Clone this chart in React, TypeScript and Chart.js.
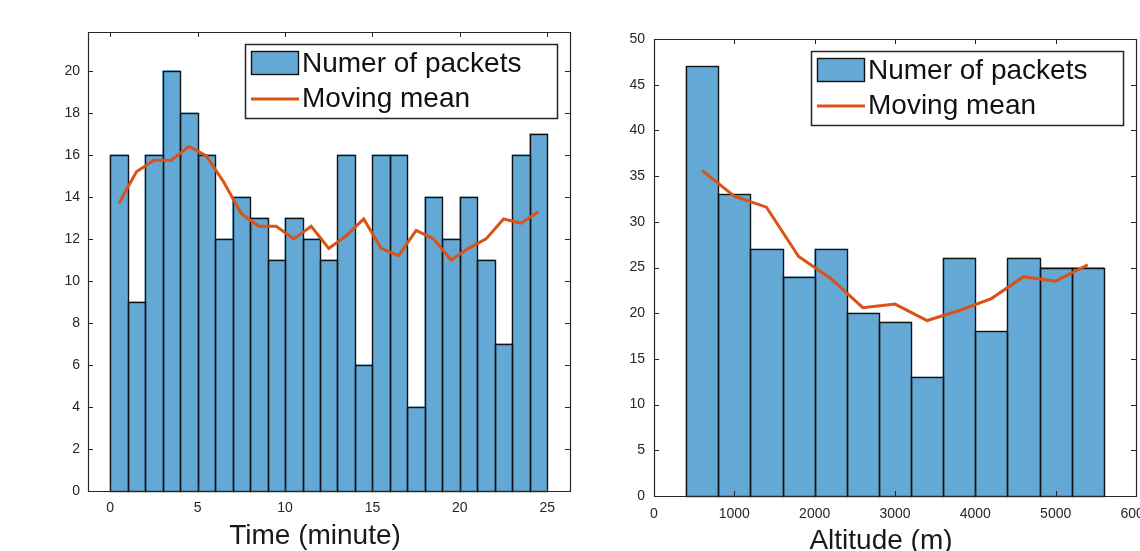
import React, { useEffect, useRef } from 'react';
import { Chart, registerables } from 'chart.js';

Chart.register(...registerables);

// ---- Left chart: packets per minute ----
const timeBinCenters = [0.5, 1.5, 2.5, 3.5, 4.5, 5.5, 6.5, 7.5, 8.5, 9.5, 10.5, 11.5, 12.5, 13.5, 14.5, 15.5, 16.5, 17.5, 18.5, 19.5, 20.5, 21.5, 22.5, 23.5, 24.5];
const packetsPerMinute = [16, 9, 16, 20, 18, 16, 12, 14, 13, 11, 13, 12, 11, 16, 6, 16, 16, 4, 14, 12, 14, 11, 7, 16, 17];
const movingMeanTime = [13.7, 15.2, 15.75, 15.75, 16.4, 15.95, 14.7, 13.2, 12.6, 12.6, 12.0, 12.6, 11.55, 12.15, 12.95, 11.55, 11.2, 12.4, 12.0, 11.0, 11.55, 12.0, 12.95, 12.75, 13.3];
const timeXTicks = [0, 5, 10, 15, 20, 25];
const timeYTicks = [0, 2, 4, 6, 8, 10, 12, 14, 16, 18, 20];

// ---- Right chart: packets per altitude ----
const altBinCenters = [600, 1000, 1400, 1800, 2200, 2600, 3000, 3400, 3800, 4200, 4600, 5000, 5400];
const packetsPerAltitude = [47, 33, 27, 24, 27, 20, 19, 13, 26, 18, 26, 25, 25];
const movingMeanAlt = [35.6, 32.8, 31.6, 26.2, 23.8, 20.6, 21.0, 19.2, 20.3, 21.6, 24.0, 23.5, 25.3];
const altXTicks = [0, 1000, 2000, 3000, 4000, 5000, 6000];
const altYTicks = [0, 5, 10, 15, 20, 25, 30, 35, 40, 45, 50];

const BAR_LABEL = 'Numer of packets';
const LINE_LABEL = 'Moving mean';
const FONT = '"Liberation Sans", Arial, Helvetica, sans-serif';
const BAR_FILL = 'rgb(100,169,214)';
const BAR_EDGE = '#121212';
const LINE_COLOR = '#D95319';
const AXIS_COLOR = '#262626';

// crisp black outlines on the histogram bars (drawn right after the bar dataset, below the line)
const barEdgePlugin = {
  id: 'barEdges',
  afterDatasetDraw(chart: any, args: any) {
    const ds = chart.data.datasets[args.index];
    if (ds.type !== 'bar') return;
    const { ctx } = chart;
    ctx.save();
    ctx.strokeStyle = BAR_EDGE;
    ctx.lineWidth = 1.4;
    for (const el of args.meta.data) {
      const { x, y, base, width } = el.getProps(['x', 'y', 'base', 'width'], true);
      const l = Math.round(x - width / 2) + 0.5;
      const r = Math.round(x + width / 2) + 0.5;
      const t = Math.round(y) + 0.5;
      const b = Math.round(base) + 0.5;
      ctx.strokeRect(l, t, r - l, b - t);
    }
    ctx.restore();
  },
};

const framePlugin = {
  id: 'matlabFrame',
  afterDatasetsDraw(chart: any, _args: any, opts: any) {
    const { ctx, chartArea } = chart;
    const { left, right, top, bottom } = chartArea;
    const xs = chart.scales.x;
    const ys = chart.scales.y;
    const tl = 5;
    ctx.save();
    ctx.strokeStyle = AXIS_COLOR;
    ctx.lineWidth = 1.2;
    ctx.beginPath();
    ctx.rect(Math.round(left) + 0.5, Math.round(top) + 0.5, Math.round(right - left), Math.round(bottom - top));
    ctx.stroke();
    ctx.lineWidth = 1;
    ctx.beginPath();
    for (const t of xs.ticks) {
      const px = Math.round(xs.getPixelForValue(t.value)) + 0.5;
      ctx.moveTo(px, bottom);
      ctx.lineTo(px, bottom - tl);
      ctx.moveTo(px, top);
      ctx.lineTo(px, top + tl);
    }
    for (const t of ys.ticks) {
      const py = Math.round(ys.getPixelForValue(t.value)) + 0.5;
      ctx.moveTo(left, py);
      ctx.lineTo(left + tl, py);
      ctx.moveTo(right, py);
      ctx.lineTo(right - tl, py);
    }
    ctx.stroke();

    // x axis title
    if (opts && opts.xTitle) {
      ctx.fillStyle = '#1a1a1a';
      ctx.font = `28px ${FONT}`;
      ctx.textAlign = 'center';
      ctx.textBaseline = 'alphabetic';
      ctx.fillText(opts.xTitle, (left + right) / 2 - 14, bottom + 53);
    }

    // legend box
    const ds = chart.data.datasets;
    const barDs = ds.find((d: any) => d.type === 'bar');
    const lineDs = ds.find((d: any) => d.type === 'line');
    const w = 312, h = 74;
    const x0 = Math.round(right - 13 - w);
    const y0 = Math.round(top + 12);
    ctx.fillStyle = '#ffffff';
    ctx.fillRect(x0, y0, w, h);
    ctx.strokeStyle = AXIS_COLOR;
    ctx.lineWidth = 1.5;
    ctx.strokeRect(x0 + 0.5, y0 + 0.5, w, h);
    ctx.fillStyle = barDs.backgroundColor;
    ctx.fillRect(x0 + 6, y0 + 7, 48, 24);
    ctx.lineWidth = 1.4;
    ctx.strokeStyle = BAR_EDGE;
    ctx.strokeRect(x0 + 6.5, y0 + 7.5, 47, 23);
    ctx.strokeStyle = lineDs.borderColor;
    ctx.lineWidth = 3;
    ctx.beginPath();
    ctx.moveTo(x0 + 6, y0 + 55);
    ctx.lineTo(x0 + 54, y0 + 55);
    ctx.stroke();
    ctx.fillStyle = '#111';
    ctx.font = `28px ${FONT}`;
    ctx.textAlign = 'left';
    ctx.textBaseline = 'middle';
    ctx.fillText(barDs.label, x0 + 57, y0 + 20);
    ctx.fillText(lineDs.label, x0 + 57, y0 + 55);
    ctx.restore();
  },
};

function makeConfig(p: any) {
  return {
    type: 'bar',
    data: {
      datasets: [
        {
          type: 'line',
          label: LINE_LABEL,
          data: p.centers.map((x: number, i: number) => ({ x, y: p.mean[i] })),
          borderColor: LINE_COLOR,
          backgroundColor: LINE_COLOR,
          borderWidth: 3,
          pointRadius: 0,
          tension: 0,
          order: 0,
        },
        {
          type: 'bar',
          label: BAR_LABEL,
          data: p.centers.map((x: number, i: number) => ({ x, y: p.counts[i] })),
          backgroundColor: BAR_FILL,
          borderWidth: 0,
          inflateAmount: 0.5,
          barPercentage: 1,
          categoryPercentage: 1,
          order: 1,
        },
      ],
    },
    options: {
      responsive: false,
      animation: false,
      events: [],
      layout: { padding: p.padding },
      plugins: {
        legend: { display: false },
        tooltip: { enabled: false },
        matlabFrame: { xTitle: p.xTitle },
      },
      scales: {
        x: {
          type: 'linear',
          min: p.xMin,
          max: p.xMax,
          offset: false,
          grid: { display: false, drawTicks: false },
          border: { display: false },
          ticks: {
            autoSkip: false,
            maxRotation: 0,
            padding: p.xTickPad,
            color: '#262626',
            font: { family: FONT, size: p.tickSize },
            callback: (v: number) => String(v),
          },
          afterBuildTicks: (s: any) => {
            s.ticks = p.xTicks.map((v: number) => ({ value: v }));
          },
          afterFit: (s: any) => {
            s.height = p.xAxisHeight;
            s.paddingLeft = 0;
            s.paddingRight = 0;
          },
        },
        y: {
          type: 'linear',
          min: 0,
          max: p.yMax,
          grid: { display: false, drawTicks: false },
          border: { display: false },
          ticks: {
            autoSkip: false,
            padding: p.yTickPad,
            color: '#262626',
            font: { family: FONT, size: p.tickSize },
            callback: (v: number) => String(v),
          },
          afterBuildTicks: (s: any) => {
            s.ticks = p.yTicks.map((v: number) => ({ value: v }));
          },
          afterFit: (s: any) => {
            s.width = p.yAxisWidth;
            s.paddingTop = 0;
            s.paddingBottom = 0;
          },
        },
      },
    },
    plugins: [barEdgePlugin, framePlugin],
  };
}

function HistChart(props: any) {
  const ref = useRef<HTMLCanvasElement>(null);
  useEffect(() => {
    if (!ref.current) return;
    const chart = new Chart(ref.current, makeConfig(props.cfg) as any);
    return () => chart.destroy();
  }, []);
  return (
    <canvas
      ref={ref}
      width={props.width}
      height={props.height}
      style={{ position: 'absolute', left: props.left, top: 0, width: props.width, height: props.height }}
    />
  );
}

const leftCfg = {
  centers: timeBinCenters,
  counts: packetsPerMinute,
  mean: movingMeanTime,
  xTicks: timeXTicks,
  yTicks: timeYTicks,
  xMin: -1.27,
  xMax: 26.3,
  yMax: 21.85,
  xTitle: 'Time (minute)',
  padding: { left: 0, top: 32, right: 30, bottom: 0 },
  yAxisWidth: 88,
  xAxisHeight: 60,
  xTickPad: 9,
  yTickPad: 8,
  tickSize: 14,
};

const rightCfg = {
  centers: altBinCenters,
  counts: packetsPerAltitude,
  mean: movingMeanAlt,
  xTicks: altXTicks,
  yTicks: altYTicks,
  xMin: 0,
  xMax: 6000,
  yMax: 50,
  xTitle: 'Altitude (m)',
  padding: { left: 0, top: 39, right: 4, bottom: 0 },
  yAxisWidth: 54,
  xAxisHeight: 55,
  xTickPad: 10,
  yTickPad: 9,
  tickSize: 14,
};

export default function App() {
  return (
    <div style={{ position: 'fixed', left: 0, top: 0, width: 1140, height: 551, background: '#fff', overflow: 'hidden' }}>
      <HistChart cfg={leftCfg} left={0} width={600} height={551} />
      <HistChart cfg={rightCfg} left={600} width={540} height={551} />
    </div>
  );
}
